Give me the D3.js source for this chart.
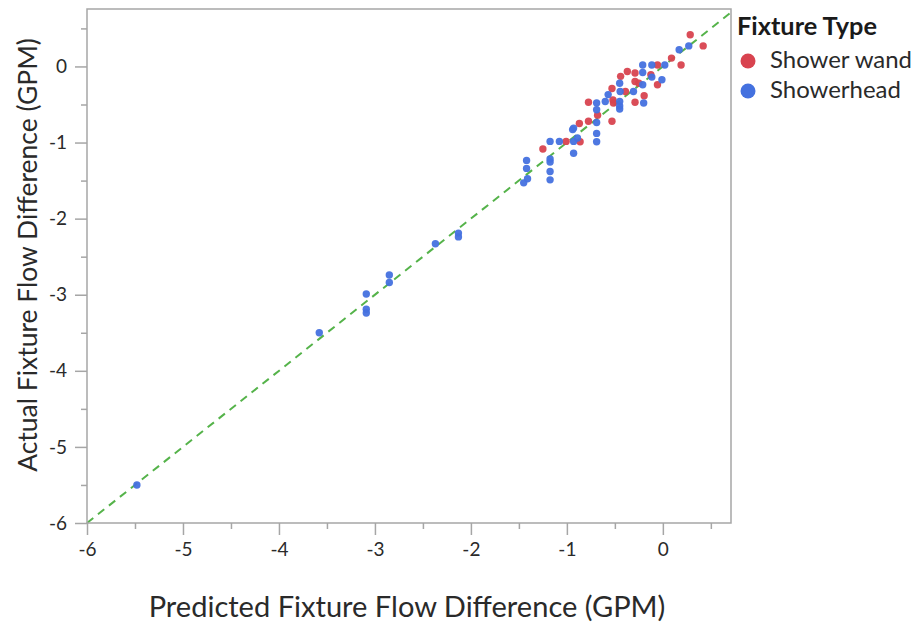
<!DOCTYPE html>
<html><head><meta charset="utf-8">
<script src="https://cdn.jsdelivr.net/npm/d3@7"></script>
<style>body{margin:0;background:#fff}svg{display:block}text{font-family:"Lato","Open Sans",sans-serif}</style>
</head><body>
<svg id="c" width="913" height="625"></svg>
<script>
const seriesNames = ["Shower wand", "Showerhead"];
const seriesColors = ["#d8434f", "#4471df"];
const wandPredicted = [0.285,0.42,0.09,0.19,-0.056,-0.125,-0.29,-0.37,-0.44,-0.29,-0.25,-0.056,-0.53,-0.39,-0.195,-0.29,-0.52,-0.515,-0.775,-0.68,-0.775,-0.53,-0.87,-1.25,-1.008,-0.862];
const wandActual    = [0.417,0.27,0.11,0.02,0.02,-0.11,-0.087,-0.066,-0.13,-0.197,-0.22,-0.24,-0.29,-0.33,-0.385,-0.47,-0.44,-0.48,-0.47,-0.64,-0.72,-0.72,-0.75,-1.085,-0.985,-0.99];
const headPredicted = [-5.48,-3.58,-3.09,-3.09,-3.09,-2.85,-2.85,-2.37,-2.13,-2.13,-1.42,-1.42,-1.41,-1.45,-1.175,-1.175,-1.175,-1.175,-1.175,-1.078,-0.93,-0.93,-0.94,-0.89,-0.69,-0.69,-0.69,-0.69,-0.93,0.27,0.17,0.02,-0.115,-0.21,-0.21,-0.115,-0.21,-0.01,-0.45,-0.445,-0.306,-0.2,-0.57,-0.6,-0.45,-0.45,-0.45,-0.69];
const headActual    = [-5.50,-3.50,-2.99,-3.19,-3.24,-2.74,-2.84,-2.33,-2.19,-2.24,-1.235,-1.34,-1.476,-1.53,-1.217,-1.256,-1.38,-1.49,-0.985,-0.985,-0.985,-1.14,-0.83,-0.94,-0.57,-0.736,-0.88,-0.99,-0.81,0.27,0.22,0.02,0.02,0.02,-0.08,-0.14,-0.24,-0.175,-0.22,-0.33,-0.33,-0.48,-0.37,-0.46,-0.46,-0.52,-0.56,-0.48];
const xTicks = [-6,-5,-4,-3,-2,-1,0];
const yTicks = [-6,-5,-4,-3,-2,-1,0];
const xMinor = [-5.5,-4.5,-3.5,-2.5,-1.5,-0.5,0.5];
const yMinor = [-5.5,-4.5,-3.5,-2.5,-1.5,-0.5,0.5];
const xTitle = "Predicted Fixture Flow Difference (GPM)";
const yTitle = "Actual Fixture Flow Difference (GPM)";
const legendTitle = "Fixture Type";

const L=87, R=731, T=9, B=523;
const x = d3.scaleLinear().domain([-6,0.71]).range([L,R]);
const y = d3.scaleLinear().domain([-6,0.755]).range([B,T]);
const svg = d3.select("#c");
const axisColor="#a6a6a6";
const textColor="#2a2a2a";
const fmt = d => String(d);

function fit(sel, w){ // scale font-size so the text spans width w
  const n = sel.node(); const fs = +sel.attr("font-size");
  const len = n.getComputedTextLength(); sel.attr("font-size", fs*w/len);
}

// diagonal
const dmax = Math.min(0.71,0.755);
svg.append("line").attr("x1",x(-6)).attr("y1",y(-6)).attr("x2",x(dmax)).attr("y2",y(dmax))
  .attr("stroke","#55b34a").attr("stroke-width",2).attr("stroke-dasharray","8,6");

// points
const data = [];
wandPredicted.forEach((p,i)=>data.push({s:0,p,a:wandActual[i]}));
headPredicted.forEach((p,i)=>data.push({s:1,p,a:headActual[i]}));
svg.append("g").selectAll("circle").data(data).join("circle")
  .attr("cx",d=>x(d.p)).attr("cy",d=>y(d.a)).attr("r",3.7)
  .attr("fill",d=>seriesColors[d.s]).attr("fill-opacity",0.95);

// frame
svg.append("rect").attr("x",L).attr("y",T).attr("width",R-L).attr("height",B-T)
  .attr("fill","none").attr("stroke",axisColor).attr("stroke-width",1.5);

// x axis
const gx = svg.append("g").attr("transform",`translate(0,${B})`);
gx.call(d3.axisBottom(x).tickValues(xTicks).tickSize(12).tickPadding(8).tickFormat(fmt));
gx.call(g=>g.select(".domain").remove());
gx.selectAll(".tick line").attr("stroke",axisColor).attr("stroke-width",1.5);
gx.selectAll("text").attr("font-size",19).attr("fill",textColor);
const gxm = svg.append("g").attr("transform",`translate(0,${B})`);
gxm.call(d3.axisBottom(x).tickValues(xMinor).tickSize(6).tickFormat(""));
gxm.call(g=>g.select(".domain").remove());
gxm.selectAll(".tick line").attr("stroke",axisColor).attr("stroke-width",1.5);

// y axis
const gy = svg.append("g").attr("transform",`translate(${L},0)`);
gy.call(d3.axisLeft(y).tickValues(yTicks).tickSize(12).tickPadding(8).tickFormat(fmt));
gy.call(g=>g.select(".domain").remove());
gy.selectAll(".tick line").attr("stroke",axisColor).attr("stroke-width",1.5);
gy.selectAll("text").attr("font-size",19).attr("fill",textColor);
const gym = svg.append("g").attr("transform",`translate(${L},0)`);
gym.call(d3.axisLeft(y).tickValues(yMinor).tickSize(6).tickFormat(""));
gym.call(g=>g.select(".domain").remove());
gym.selectAll(".tick line").attr("stroke",axisColor).attr("stroke-width",1.5);

// titles
const xt = svg.append("text").attr("x",407).attr("y",617).attr("text-anchor","middle")
  .attr("font-size",24).attr("fill",textColor).text(xTitle);
fit(xt,517);
const yt = svg.append("text").attr("transform","translate(37,255) rotate(-90)").attr("text-anchor","middle")
  .attr("font-size",24).attr("fill",textColor).text(yTitle);
fit(yt,434);

// legend
const lt = svg.append("text").attr("x",737).attr("y",35).attr("font-size",20).attr("font-weight","bold")
  .attr("fill","#1a1a1a").text(legendTitle);
fit(lt,140);
const lg = svg.append("g").selectAll("g").data(seriesNames).join("g")
  .attr("transform",(d,i)=>`translate(0,${61+i*30})`);
lg.append("circle").attr("cx",748).attr("cy",0).attr("r",7.5).attr("fill",(d,i)=>seriesColors[i]);
const lx = lg.append("text").attr("x",770).attr("y",7).attr("font-size",20).attr("fill",textColor).text(d=>d);
fit(d3.select(lx.nodes()[0]),142);
d3.select(lx.nodes()[1]).attr("font-size", d3.select(lx.nodes()[0]).attr("font-size"));
</script>
</body></html>
